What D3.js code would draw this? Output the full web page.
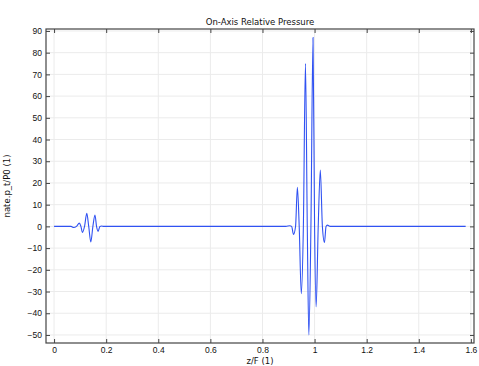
<!DOCTYPE html>
<html>
<head>
<meta charset="utf-8">
<script src="https://cdn.jsdelivr.net/npm/d3@7"></script>
<style>
  body { margin: 0; background: #fff; }
  svg { display: block; font-family: "DejaVu Sans", sans-serif; }
</style>
</head>
<body>
<div id="viz"></div>
<script>
// values
var xTicks = [0, 0.2, 0.4, 0.6, 0.8, 1, 1.2, 1.4, 1.6];
var yTicks = [-50, -40, -30, -20, -10, 0, 10, 20, 30, 40, 50, 60, 70, 80, 90];

var zF = [0, 0.065, 0.075, 0.086, 0.097, 0.103, 0.109, 0.117, 0.1255, 0.133, 0.141, 0.149, 0.157, 0.163, 0.169, 0.176, 0.183, 0.19,
  0.89, 0.905, 0.912, 0.919, 0.927, 0.934, 0.941, 0.949, 0.957, 0.965, 0.972, 0.978, 0.986, 0.994, 1.0, 1.006, 1.014, 1.022, 1.03, 1.038, 1.044, 1.049, 1.06, 1.58];
var pRel = [0, 0, -0.5, 0, 1.5, 0, -2.8, 0, 6.0, 0, -7.2, 0, 5.2, 0, -2.3, 0, 0.2, 0,
  0, 0.3, 0, -3.7, 0, 18, 0, -31, 0, 75, 0, -50, 0, 87, 0, -37, 0, 26, 0, -7.4, 0, 0.6, 0, 0];

var title = "On-Axis Relative Pressure";
var xLabel = "z/F (1)";
var yLabel = "nate.p_t/P0 (1)";

var w = 479, h = 366;
var margin = { left: 46, right: 5, top: 29, bottom: 23 };
var fs = "8.5px";

var svg = d3.select("div#viz").append("svg")
  .attr("width", w)
  .attr("height", h);

var x = d3.scaleLinear().domain([-0.031, 1.612]).range([margin.left, w - margin.right]);
var y = d3.scaleLinear().domain([-53.7, 90.9]).range([h - margin.bottom, margin.top]);

var data = zF.map(function(d, i) { return { z: d, p: pRel[i] }; });

// grid
svg.append("g").selectAll("line").data(xTicks).enter().append("line")
  .attr("x1", function(d) { return x(d); }).attr("x2", function(d) { return x(d); })
  .attr("y1", margin.top).attr("y2", h - margin.bottom)
  .attr("stroke", "#ebebeb").attr("stroke-width", 1);
svg.append("g").selectAll("line").data(yTicks).enter().append("line")
  .attr("x1", margin.left).attr("x2", w - margin.right)
  .attr("y1", function(d) { return y(d); }).attr("y2", function(d) { return y(d); })
  .attr("stroke", "#ebebeb").attr("stroke-width", 1);

// curve
var plotLine = d3.line()
  .curve(d3.curveMonotoneX)
  .x(function(d) { return x(d.z); })
  .y(function(d) { return y(d.p); });

svg.append("path")
  .datum(data)
  .attr("d", plotLine)
  .attr("fill", "none")
  .attr("stroke", "#3052f2")
  .attr("stroke-width", 1.1);

// axes with inner ticks
var tickLen = 4;
var bottomAxis = d3.axisBottom(x).tickValues(xTicks).tickSize(-tickLen).tickPadding(4)
  .tickFormat(function(d) { return String(d); });
var topAxis = d3.axisTop(x).tickValues(xTicks).tickSize(-tickLen).tickFormat("");
var leftAxis = d3.axisLeft(y).tickValues(yTicks).tickSize(-tickLen).tickPadding(4);
var rightAxis = d3.axisRight(y).tickValues(yTicks).tickSize(-tickLen).tickFormat("");

function styleAxis(g) {
  g.select(".domain").remove();
  g.selectAll("line").attr("stroke", "#444");
  g.selectAll("text").attr("fill", "#111").style("font-size", fs);
}

svg.append("g").attr("transform", "translate(0," + (h - margin.bottom) + ")").call(bottomAxis).call(styleAxis);
svg.append("g").attr("transform", "translate(0," + margin.top + ")").call(topAxis).call(styleAxis);
svg.append("g").attr("transform", "translate(" + margin.left + ",0)").call(leftAxis).call(styleAxis);
svg.append("g").attr("transform", "translate(" + (w - margin.right) + ",0)").call(rightAxis).call(styleAxis);

// frame
svg.append("rect")
  .attr("x", margin.left).attr("y", margin.top)
  .attr("width", w - margin.left - margin.right)
  .attr("height", h - margin.top - margin.bottom)
  .attr("fill", "none").attr("stroke", "#444").attr("stroke-width", 1.2);

// labels
var cx = (margin.left + w - margin.right) / 2;
svg.append("text").attr("x", cx).attr("y", 25)
  .attr("text-anchor", "middle").style("font-size", fs).attr("fill", "#111")
  .text(title);
svg.append("text").attr("x", cx).attr("y", 364)
  .attr("text-anchor", "middle").style("font-size", fs).attr("fill", "#111")
  .text(xLabel);
svg.append("text")
  .attr("transform", "translate(10," + ((margin.top + h - margin.bottom) / 2) + ")rotate(-90)")
  .attr("text-anchor", "middle").style("font-size", fs).attr("fill", "#111")
  .text(yLabel);
</script>
</body>
</html>
